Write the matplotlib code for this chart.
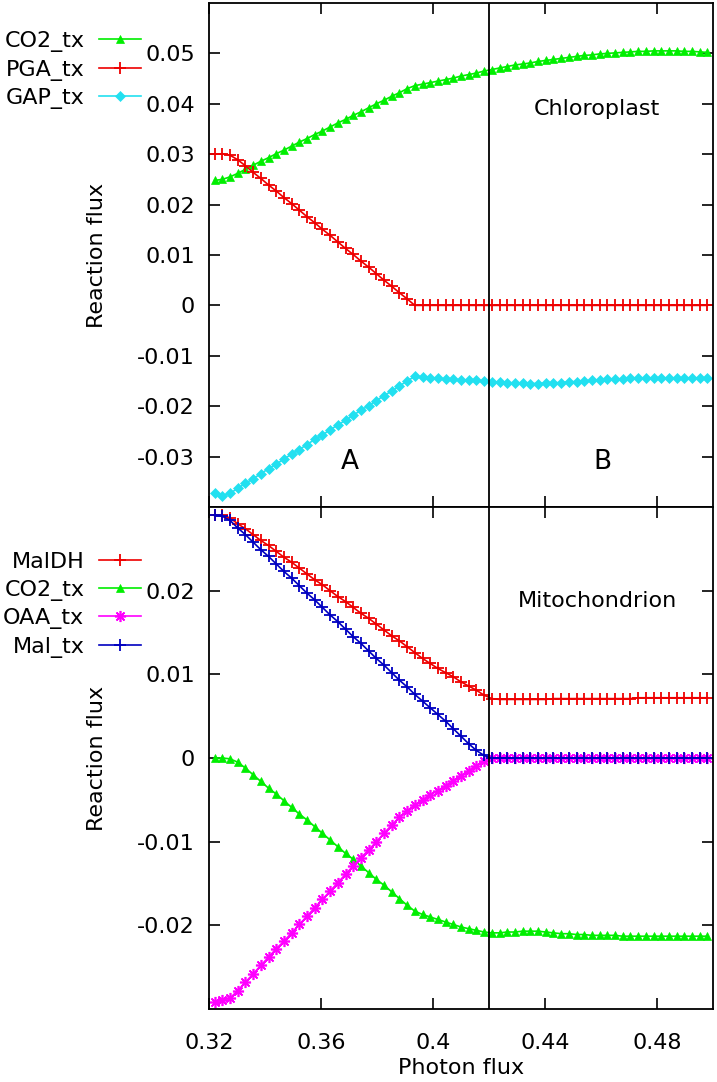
import matplotlib
matplotlib.use("Agg")
import matplotlib.pyplot as plt

# ---------------- data ----------------
photon_flux = [0.322, 0.32475, 0.3275, 0.33025, 0.333, 0.33575, 0.3385, 0.34125, 0.344, 0.34675,
               0.3495, 0.35225, 0.355, 0.35775, 0.3605, 0.36325, 0.366, 0.36875, 0.3715, 0.37425,
               0.377, 0.37975, 0.3825, 0.38525, 0.388, 0.39075, 0.3935, 0.39625, 0.399, 0.40175,
               0.4045, 0.40725, 0.41, 0.41275, 0.4155, 0.41825, 0.421, 0.42375, 0.4265, 0.42925,
               0.432, 0.43475, 0.4375, 0.44025, 0.443, 0.44575, 0.4485, 0.45125, 0.454, 0.45675,
               0.4595, 0.46225, 0.465, 0.46775, 0.4705, 0.47325, 0.476, 0.47875, 0.4815, 0.48425,
               0.487, 0.48975, 0.4925, 0.49525, 0.498]

# Chloroplast
chl_co2_tx = [0.0248, 0.0250, 0.0255, 0.0262, 0.0270, 0.0278, 0.0286, 0.0293, 0.0301, 0.0308,
              0.0316, 0.0324, 0.0331, 0.0339, 0.0346, 0.0354, 0.0362, 0.0369, 0.0377, 0.0384,
              0.0392, 0.0400, 0.0407, 0.0415, 0.0422, 0.0430, 0.0436, 0.0439, 0.0442, 0.0445,
              0.0448, 0.0451, 0.0455, 0.0458, 0.0461, 0.0465, 0.0468, 0.0471, 0.0474, 0.0477,
              0.0479, 0.0481, 0.0484, 0.0486, 0.0488, 0.0490, 0.0492, 0.0494, 0.0496, 0.0497,
              0.0499, 0.0500, 0.0501, 0.0502, 0.0503, 0.0504, 0.0504, 0.0505, 0.0505, 0.0505,
              0.0505, 0.0504, 0.0504, 0.0503, 0.0502]
chl_pga_tx = [0.0300, 0.0301, 0.0298, 0.0289, 0.0277, 0.0264, 0.0252, 0.0239, 0.0227, 0.0214,
              0.0202, 0.0189, 0.0176, 0.0164, 0.0151, 0.0139, 0.0126, 0.0113, 0.0101, 0.0088,
              0.0076, 0.0063, 0.0050, 0.0038, 0.0025, 0.0013, 0.0000, 0.0, 0.0, 0.0,
              0.0, 0.0, 0.0, 0.0, 0.0, 0.0, 0.0, 0.0, 0.0, 0.0,
              0.0, 0.0, 0.0, 0.0, 0.0, 0.0, 0.0, 0.0, 0.0, 0.0,
              0.0, 0.0, 0.0, 0.0, 0.0, 0.0, 0.0, 0.0, 0.0, 0.0,
              0.0, 0.0, 0.0, 0.0, 0.0]
chl_gap_tx = [-0.0372, -0.0378, -0.0373, -0.0363, -0.0353, -0.0344, -0.0334, -0.0324, -0.0315, -0.0305,
              -0.0295, -0.0286, -0.0276, -0.0266, -0.0257, -0.0247, -0.0237, -0.0228, -0.0218, -0.0208,
              -0.0199, -0.0189, -0.0179, -0.0170, -0.0160, -0.0150, -0.0141, -0.0142, -0.0144, -0.0145,
              -0.0146, -0.0147, -0.0148, -0.0149, -0.0149, -0.0150, -0.0151, -0.0152, -0.0153, -0.0154,
              -0.0154, -0.0155, -0.0155, -0.0154, -0.0154, -0.0153, -0.0152, -0.0151, -0.0150, -0.0149,
              -0.0148, -0.0147, -0.0146, -0.0146, -0.0145, -0.0145, -0.0144, -0.0144, -0.0144, -0.0144,
              -0.0144, -0.0144, -0.0144, -0.0144, -0.0144]

# Mitochondrion
mit_maldh = [0.0290, 0.0290, 0.0287, 0.0280, 0.0274, 0.0267, 0.0260, 0.0254, 0.0247, 0.0240,
             0.0234, 0.0227, 0.0220, 0.0213, 0.0207, 0.0200, 0.0193, 0.0187, 0.0180, 0.0173,
             0.0167, 0.0160, 0.0153, 0.0146, 0.0140, 0.0133, 0.0126, 0.0119, 0.0113, 0.0107,
             0.0102, 0.0097, 0.0091, 0.0086, 0.0081, 0.0075, 0.0071, 0.0070, 0.0070, 0.0070,
             0.0070, 0.0070, 0.0070, 0.0070, 0.0071, 0.0071, 0.0071, 0.0071, 0.0071, 0.0071,
             0.0071, 0.0071, 0.0071, 0.0071, 0.0071, 0.0072, 0.0072, 0.0072, 0.0072, 0.0072,
             0.0072, 0.0072, 0.0072, 0.0072, 0.0072]
mit_co2_tx = [0.0000, 0.0000, -0.0001, -0.0005, -0.0012, -0.0020, -0.0028, -0.0036, -0.0043, -0.0051,
              -0.0059, -0.0067, -0.0074, -0.0082, -0.0090, -0.0098, -0.0106, -0.0114, -0.0121, -0.0129,
              -0.0137, -0.0145, -0.0152, -0.0160, -0.0168, -0.0176, -0.0183, -0.0187, -0.0190, -0.0193,
              -0.0196, -0.0199, -0.0202, -0.0204, -0.0206, -0.0208, -0.0209, -0.0209, -0.0208, -0.0208,
              -0.0207, -0.0207, -0.0207, -0.0208, -0.0209, -0.0210, -0.0210, -0.0211, -0.0211, -0.0212,
              -0.0212, -0.0212, -0.0212, -0.0213, -0.0213, -0.0213, -0.0213, -0.0213, -0.0213, -0.0213,
              -0.0213, -0.0213, -0.0213, -0.0213, -0.0213]
mit_oaa_tx = [-0.0292, -0.0289, -0.0287, -0.0278, -0.0268, -0.0258, -0.0248, -0.0238, -0.0228, -0.0219,
              -0.0209, -0.0199, -0.0189, -0.0179, -0.0169, -0.0159, -0.0149, -0.0139, -0.0129, -0.0119,
              -0.0110, -0.0100, -0.0090, -0.0080, -0.0071, -0.0063, -0.0056, -0.0050, -0.0044, -0.0039,
              -0.0033, -0.0027, -0.0021, -0.0015, -0.0009, -0.0004, 0.0, 0.0, 0.0, 0.0,
              0.0, 0.0, 0.0, 0.0, 0.0, 0.0, 0.0, 0.0, 0.0, 0.0,
              0.0, 0.0, 0.0, 0.0, 0.0, 0.0, 0.0, 0.0, 0.0, 0.0,
              0.0, 0.0, 0.0, 0.0, 0.0]
mit_mal_tx = [0.0290, 0.0289, 0.0284, 0.0275, 0.0267, 0.0258, 0.0249, 0.0241, 0.0232, 0.0223,
              0.0215, 0.0206, 0.0197, 0.0189, 0.0180, 0.0171, 0.0163, 0.0154, 0.0145, 0.0137,
              0.0128, 0.0119, 0.0111, 0.0102, 0.0093, 0.0085, 0.0076, 0.0068, 0.0060, 0.0052,
              0.0044, 0.0035, 0.0026, 0.0017, 0.0009, 0.0003, 0.0, 0.0, 0.0, 0.0,
              0.0, 0.0, 0.0, 0.0, 0.0, 0.0, 0.0, 0.0, 0.0, 0.0,
              0.0, 0.0, 0.0, 0.0, 0.0, 0.0, 0.0, 0.0, 0.0, 0.0,
              0.0, 0.0, 0.0, 0.0, 0.0]

boundary_flux = 0.42
x_ticks = [0.32, 0.36, 0.40, 0.44, 0.48]
x_tick_labels = ["0.32", "0.36", "0.4", "0.44", "0.48"]
chl_y_ticks = [0.05, 0.04, 0.03, 0.02, 0.01, 0.0, -0.01, -0.02, -0.03]
chl_y_labels = ["0.05", "0.04", "0.03", "0.02", "0.01", "0", "-0.01", "-0.02", "-0.03"]
mit_y_ticks = [0.02, 0.01, 0.0, -0.01, -0.02]
mit_y_labels = ["0.02", "0.01", "0", "-0.01", "-0.02"]

# ---------------- styling ----------------
FS = 16
plt.rcParams["font.family"] = ["DejaVu Sans"]
plt.rcParams["font.size"] = FS

GREEN = "#00ee00"
RED = "#ee0000"
CYAN = "#22e0f0"
MAGENTA = "#ff00ff"
BLUE = "#0000c0"

W, H = 717, 1082
fig = plt.figure(figsize=(W / 100, H / 100), dpi=100)


def rect(l, t, r, b):
    return [l / W, 1 - b / H, (r - l) / W, (b - t) / H]


ax1 = fig.add_axes(rect(209, 3, 713, 507))
ax2 = fig.add_axes(rect(209, 507, 713, 1009))

lw = 1.2
h1 = ax1.plot(photon_flux, chl_co2_tx, color=GREEN, lw=lw, marker="^", ms=6, mew=0.5, label="CO2_tx")[0]
h2 = ax1.plot(photon_flux, chl_pga_tx, color=RED, lw=lw, marker="+", ms=8, mew=1.3, label="PGA_tx")[0]
h3 = ax1.plot(photon_flux, chl_gap_tx, color=CYAN, lw=lw, marker="D", ms=5.5, mew=0.5, label="GAP_tx")[0]

g1 = ax2.plot(photon_flux, mit_maldh, color=RED, lw=lw, marker="+", ms=8, mew=1.3, label="MalDH")[0]
g2 = ax2.plot(photon_flux, mit_co2_tx, color=GREEN, lw=lw, marker="^", ms=6, mew=0.5, label="CO2_tx")[0]
g3 = ax2.plot(photon_flux, mit_oaa_tx, color=MAGENTA, lw=lw, marker=(8, 2, 0), ms=8, mew=1.2, label="OAA_tx")[0]
g4 = ax2.plot(photon_flux, mit_mal_tx, color=BLUE, lw=lw, marker="+", ms=8, mew=1.3, label="Mal_tx")[0]

for ax in (ax1, ax2):
    ax.set_xlim(0.32, 0.50)
    ax.axvline(boundary_flux, color="black", lw=1.3)
    ax.set_xticks(x_ticks)
    ax.tick_params(direction="in", top=True, right=True, length=8, width=1.2, labelsize=FS)
    ax.tick_params(axis="y", pad=10)
    ax.tick_params(axis="x", pad=17)
    for s in ax.spines.values():
        s.set_linewidth(1.3)
    ax.set_ylabel("Reaction flux", fontsize=FS, labelpad=22)

ax1.set_ylim(-0.04, 0.06)
ax1.set_yticks(chl_y_ticks)
ax1.set_yticklabels(chl_y_labels)
ax1.set_xticklabels([])

ax2.set_ylim(-0.03, 0.03)
ax2.set_yticks(mit_y_ticks)
ax2.set_yticklabels(mit_y_labels)
ax2.set_xticklabels(x_tick_labels)
ax2.set_xlabel("Photon flux", fontsize=FS, labelpad=4)

ax1.text(0.4586, 0.0389, "Chloroplast", ha="center", va="center", fontsize=FS)
ax1.text(0.3704, -0.031, "A", ha="center", va="center", fontsize=FS + 3)
ax1.text(0.4604, -0.031, "B", ha="center", va="center", fontsize=FS + 3)
ax2.text(0.4586, 0.0188, "Mitochondrion", ha="center", va="center", fontsize=FS)

leg_kw = dict(frameon=False, markerfirst=False, numpoints=1, handlelength=1.9,
              handletextpad=0.65, labelspacing=0.34, borderpad=0, borderaxespad=0,
              fontsize=FS, loc="upper right", bbox_transform=fig.transFigure)
ax1.legend(handles=[h1, h2, h3], bbox_to_anchor=(141 / W, 1 - 31 / H), **leg_kw)
ax2.legend(handles=[g1, g2, g3, g4], bbox_to_anchor=(141 / W, 1 - 552 / H), **leg_kw)

fig.savefig("out.png", dpi=100)
